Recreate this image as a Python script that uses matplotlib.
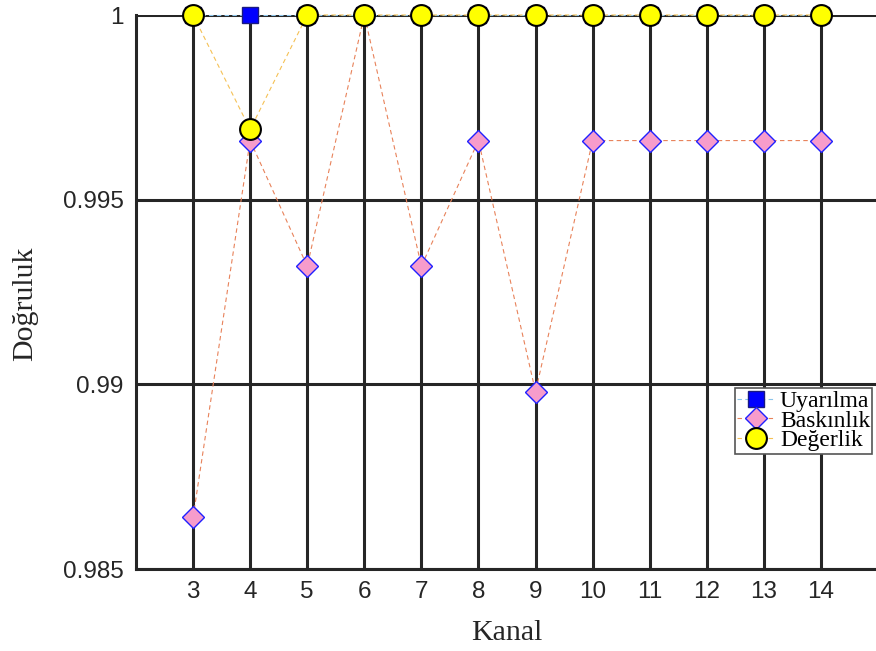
import numpy as np
import matplotlib.pyplot as plt

kanal = [3, 4, 5, 6, 7, 8, 9, 10, 11, 12, 13, 14]
uyarilma = [1.0, 1.0, 1.0, 1.0, 1.0, 1.0, 1.0, 1.0, 1.0, 1.0, 1.0, 1.0]
baskinlik = [0.9864, 0.9966, 0.9932, 1.0, 0.9932, 0.9966, 0.9898,
             0.9966, 0.9966, 0.9966, 0.9966, 0.9966]
degerlik = [1.0, 0.9969, 1.0, 1.0, 1.0, 1.0, 1.0, 1.0, 1.0, 1.0, 1.0, 1.0]
labels = ['Uyarılma', 'Baskınlık', 'Değerlik']
yticks = [0.985, 0.99, 0.995, 1.0]
ytick_labels = ['0.985', '0.99', '0.995', '1']

W, H = 876, 651
fig = plt.figure(figsize=(W / 100, H / 100), dpi=100)
ax = fig.add_axes([136 / W, (H - 569) / H, 742 / W, 554 / H])

dark = '#262626'
ax.set_xlim(2, 15)
ax.set_ylim(0.985, 1.0)
ax.set_xticks(kanal)
ax.set_yticks(yticks)
ax.set_yticklabels(ytick_labels)
ax.grid(True, color=dark, linewidth=2.2, alpha=1)
ax.set_axisbelow(True)
ax.tick_params(length=0, labelsize=17.5, labelcolor=dark, pad=9)
for lbl in ax.get_xticklabels() + ax.get_yticklabels():
    lbl.set_family('Liberation Sans')
for s in ['left', 'bottom']:
    ax.spines[s].set_linewidth(2.2)
    ax.spines[s].set_color(dark)
for s in ['top', 'right']:
    ax.spines[s].set_visible(False)

ax.plot(kanal, uyarilma, linestyle=(0, (4, 3)), linewidth=0.8, color='#8cc4ea',
        marker='s', markersize=12, markerfacecolor='#0000ff',
        markeredgecolor='#1a1a80', markeredgewidth=1.0, label=labels[0], clip_on=False)
ax.plot(kanal, baskinlik, linestyle=(0, (4, 3)), linewidth=0.8, color='#e8825a',
        marker='D', markersize=11, markerfacecolor='#f79ccb',
        markeredgecolor='#2020ff', markeredgewidth=1.0, label=labels[1], clip_on=False)
ax.plot(kanal, degerlik, linestyle=(0, (4, 3)), linewidth=0.8, color='#f5c155',
        marker='o', markersize=15, markerfacecolor='#ffff00',
        markeredgecolor='black', markeredgewidth=1.5, label=labels[2], clip_on=False)

ax.set_xlabel('Kanal', fontsize=21.5, family='Liberation Serif', color=dark, labelpad=12)
ax.set_ylabel('Doğruluk', fontsize=21.5, family='Liberation Serif', color=dark)
ax.yaxis.set_label_coords(-(136 - 38) / 742, (569 - 304) / 554)

leg = ax.legend(loc='upper left', bbox_to_anchor=((735 - 136) / 742, (569 - 388) / 554),
                prop={'family': 'Liberation Serif', 'size': 17},
                labelspacing=-0.08, handlelength=1.6, handletextpad=0.2,
                borderpad=0.1, borderaxespad=0, fancybox=False, framealpha=1,
                edgecolor='#555555')
leg.get_frame().set_linewidth(1.2)

fig.savefig('out.png', dpi=100)
